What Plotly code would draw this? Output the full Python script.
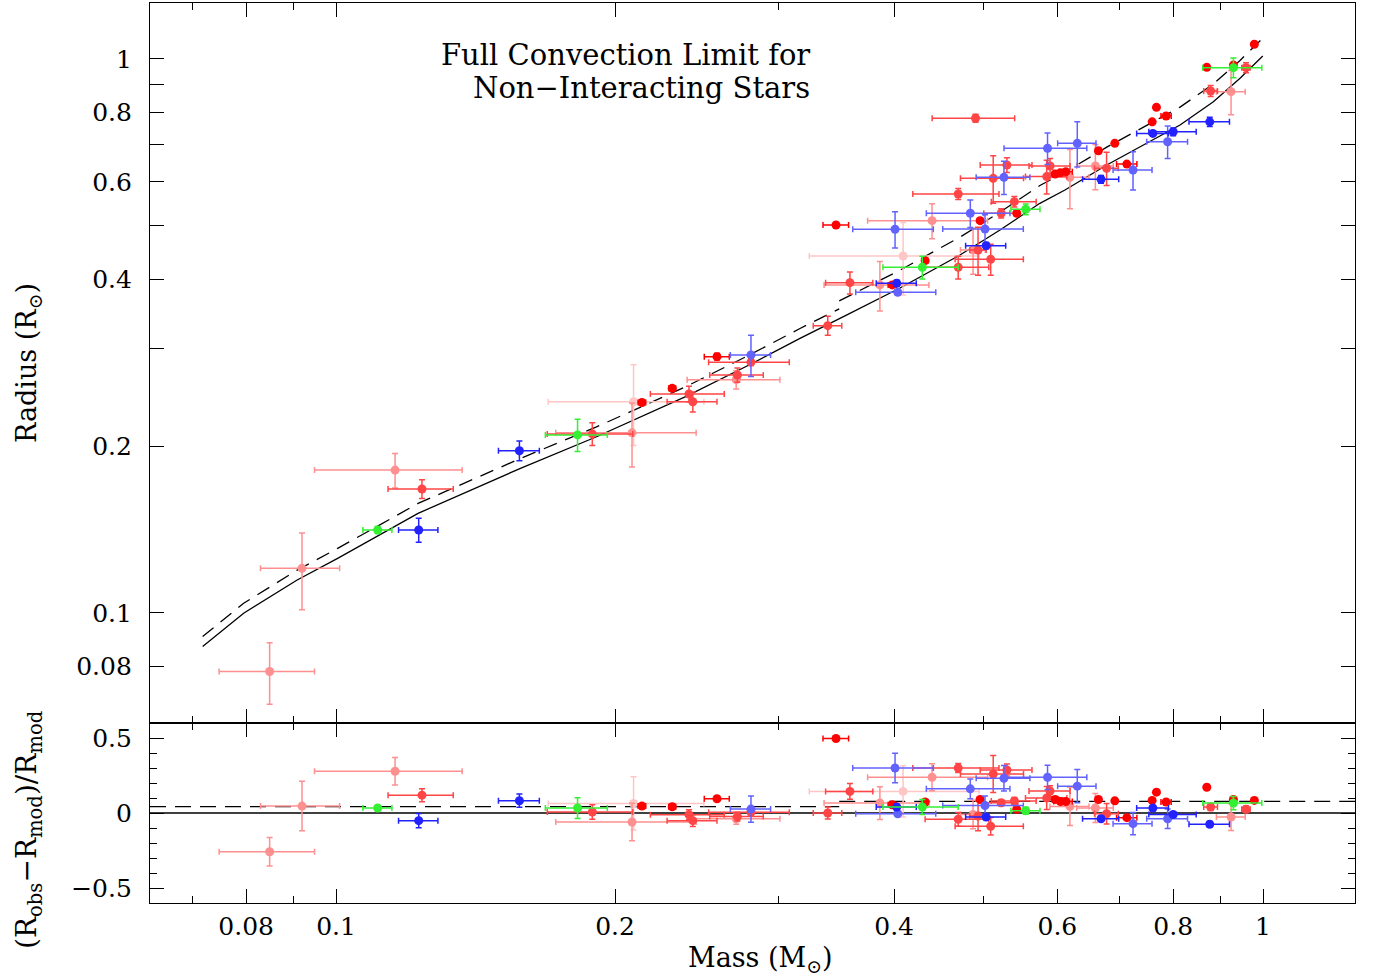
import numpy as np
import plotly.graph_objects as go
from plotly.subplots import make_subplots

# ---------------- model (solid curve) ----------------
model_mass = [0.0718, 0.0795, 0.0908, 0.1004, 0.1226, 0.1581, 0.191, 0.2383, 0.2814,
              0.3166, 0.3553, 0.4059, 0.4711, 0.5203, 0.5745, 0.6114, 0.6783, 0.7366,
              0.8137, 0.8839, 0.9445, 0.9993]
model_radius = [0.0870, 0.0999, 0.1147, 0.1255, 0.1513, 0.1824, 0.208, 0.2457, 0.2823,
                0.3131, 0.3449, 0.3860, 0.4428, 0.4913, 0.5489, 0.5801, 0.6436, 0.6947,
                0.7601, 0.8373, 0.9229, 1.0125]
offset_low = 0.042     # dashed-line offset below the full convection limit
offset_high = 0.077    # dashed-line offset above it
conv_limit = 0.349     # full convection limit (Msun)

# ---------------- observed stars, by colour group ----------------
# red (solid)
red_mass = [0.2138, 0.2305, 0.2576, 0.3462, 0.3981, 0.432, 0.4952, 0.5424, 0.5967, 0.6046,
            0.6127, 0.9786, 0.8696, 0.929, 0.7674, 0.786, 0.7593, 0.6644, 0.692, 0.713]
red_radius = [0.2399, 0.2544, 0.2902, 0.5015, 0.391, 0.4325, 0.5107, 0.5266, 0.620, 0.6234,
              0.626, 1.063, 0.966, 0.975, 0.818, 0.789, 0.770, 0.683, 0.7042, 0.646]
red_mass_err = [0.002, 0.002, 0.008, 0.011, 0.004, 0.003, 0.003, 0.003, 0.004, 0.010,
                0.010, 0.005, 0.003, 0.003, 0.003, 0.010, 0.003, 0.003, 0.003, 0.018]
red_radius_err = [0.002, 0.002, 0.004, 0.003, 0.003, 0.003, 0.003, 0.003, 0.003, 0.004,
                  0.004, 0.006, 0.004, 0.004, 0.006, 0.008, 0.005, 0.004, 0.004, 0.005]
red_resid = [0.046, 0.042, 0.095, 0.497, 0.055, 0.073, 0.090, 0.025, 0.090, 0.077,
             0.077, 0.084, 0.172, 0.090, 0.139, 0.073, 0.084, 0.090, 0.081, -0.031]

# medium red
mred_mass = [0.1238, 0.189, 0.2403, 0.2426, 0.2803, 0.271, 0.3392, 0.3584, 0.469, 0.4927,
             0.5084, 0.5218, 0.5392, 0.4896, 0.469, 0.5293, 0.5116, 0.5892, 0.5843, 0.9585,
             0.878, 0.678]
mred_radius = [0.1674, 0.2105, 0.2485, 0.2406, 0.2836, 0.2689, 0.3301, 0.3947, 0.4207, 0.4519,
               0.4349, 0.5266, 0.5526, 0.7815, 0.5705, 0.6436, 0.609, 0.641, 0.6133, 0.9645,
               0.8754, 0.635]
mred_mass_err = [0.010, 0.020, 0.022, 0.015, 0.028, 0.018, 0.012, 0.021, 0.037, 0.010,
                 0.043, 0.022, 0.030, 0.050, 0.050, 0.034, 0.040, 0.030, 0.030, 0.010,
                 0.015, 0.020]
mred_radius_err = [0.0065, 0.010, 0.008, 0.010, 0.004, 0.008, 0.013, 0.018, 0.020, 0.045,
                   0.028, 0.010, 0.012, 0.013, 0.013, 0.020, 0.060, 0.020, 0.043, 0.020,
                   0.020, 0.044]
mred_resid = [0.119, 0.007, -0.011, -0.051, 0.005, -0.024, 0.0, 0.144, -0.042, -0.02,
              -0.088, 0.068, 0.080, 0.72, 0.30, 0.287, 0.26, 0.146, 0.10, 0.025,
              0.04, -0.005]

# pink
pink_mass = [0.0848, 0.0919, 0.1158, 0.2086, 0.2702, 0.4395, 0.3861, 0.4866, 0.619, 0.9236, 0.6594]
pink_radius = [0.0784, 0.1204, 0.1811, 0.2114, 0.2637, 0.5107, 0.391, 0.4519, 0.6115, 0.873, 0.641]
pink_mass_err = [0.010, 0.009, 0.021, 0.036, 0.031, 0.065, 0.050, 0.015, 0.030, 0.033, 0.030]
pink_radius_err = [0.010, 0.019, 0.013, 0.028, 0.010, 0.037, 0.040, 0.043, 0.075, 0.080, 0.060]
pink_resid = [-0.258, 0.046, 0.278, -0.06, -0.038, 0.238, 0.066, -0.01, 0.044, -0.027, 0.033]

# light pink
lpink_mass = [0.2094, 0.409]
lpink_radius = [0.2406, 0.441]
lpink_mass_err = [0.040, 0.085]
lpink_radius_err = [0.040, 0.066]
lpink_resid = [0.064, 0.144]

# blue
blue_mass = [0.1228, 0.1577, 0.4026, 0.5027, 0.876, 0.7606, 0.8, 0.6687]
blue_radius = [0.1412, 0.1963, 0.3937, 0.4603, 0.770, 0.734, 0.739, 0.6064]
blue_mass_err = [0.006, 0.008, 0.020, 0.025, 0.044, 0.030, 0.047, 0.030]
blue_radius_err = [0.007, 0.008, 0.005, 0.006, 0.015, 0.006, 0.012, 0.010]
blue_resid = [-0.051, 0.082, 0.04, -0.027, -0.075, 0.033, -0.01, -0.038]

# medium blue
mblue_mass = [0.2803, 0.4009, 0.4036, 0.5013, 0.4833, 0.5855, 0.6304, 0.5254, 0.789, 0.724]
mblue_radius = [0.2923, 0.4928, 0.3793, 0.4933, 0.5266, 0.690, 0.7042, 0.6115, 0.709, 0.6304]
mblue_mass_err = [0.014, 0.040, 0.040, 0.050, 0.050, 0.060, 0.030, 0.035, 0.040, 0.035]
mblue_radius_err = [0.025, 0.037, 0.004, 0.030, 0.030, 0.045, 0.066, 0.042, 0.048, 0.050]
mblue_resid = [0.026, 0.30, -0.005, 0.05, 0.161, 0.238, 0.179, 0.232, -0.038, -0.071]

# green
green_mass = [0.1109, 0.1822, 0.429, 0.5546, 0.929]
green_radius = [0.1412, 0.2096, 0.4207, 0.5355, 0.9645]
green_mass_err = [0.004, 0.014, 0.040, 0.020, 0.068]
green_radius_err = [0.002, 0.014, 0.020, 0.012, 0.040]
green_resid = [0.033, 0.033, 0.04, 0.015, 0.066]

# tick labels
x_tick_vals = [0.08, 0.1, 0.2, 0.4, 0.6, 0.8, 1]
x_tick_text = ["0.08", "0.1", "0.2", "0.4", "0.6", "0.8", "1"]
x_minor_vals = [0.07, 0.09, 0.3, 0.5, 0.7, 0.9]
y_tick_vals = [0.08, 0.1, 0.2, 0.4, 0.6, 0.8, 1]
y_tick_text = ["0.08", "0.1", "0.2", "0.4", "0.6", "0.8", "1"]
y_minor_vals = [0.3, 0.5, 0.7, 0.9]      # long unlabelled ticks
y_short_vals = [0.07, 0.09]              # short unlabelled ticks
r_tick_vals = [-0.5, 0, 0.5]
r_tick_text = ["\u22120.5", "0", "0.5"]
r_minor_vals = [-0.4, -0.3, -0.2, -0.1, 0.1, 0.2, 0.3, 0.4]

groups = [
    (lpink_mass, lpink_radius, lpink_mass_err, lpink_radius_err, lpink_resid, "#ffc6c6"),
    (pink_mass, pink_radius, pink_mass_err, pink_radius_err, pink_resid, "#ff9090"),
    (mred_mass, mred_radius, mred_mass_err, mred_radius_err, mred_resid, "#ff4545"),
    (red_mass, red_radius, red_mass_err, red_radius_err, red_resid, "#ff0000"),
    (mblue_mass, mblue_radius, mblue_mass_err, mblue_radius_err, mblue_resid, "#6262ff"),
    (blue_mass, blue_radius, blue_mass_err, blue_radius_err, blue_resid, "#2222ff"),
    (green_mass, green_radius, green_mass_err, green_radius_err, green_resid, "#33f033"),
]

FONT = "DejaVu Serif"
XMIN, XMAX = 0.063, 1.2566
YMIN, YMAX = 0.0633, 1.262
W, H = 1374, 978
ML, MR, MT, MB = 150, 19, 3, 75
PW, PH = W - ML - MR, H - MT - MB


def px_x(px):
    return (px - ML) / PW


def px_y(py):
    return (H - MB - py) / PH


fig = make_subplots(rows=2, cols=1, shared_xaxes=True, vertical_spacing=0,
                    row_heights=[0.8, 0.2])

# model curves (top)
mm = np.array(model_mass)
mr = np.array(model_radius)
r_lim = 10 ** np.interp(np.log10(conv_limit), np.log10(mm), np.log10(mr))
lo = mm < conv_limit
fig.add_trace(go.Scatter(x=mm, y=mr, mode="lines", line=dict(color="black", width=1.3),
                         hoverinfo="skip"), row=1, col=1)
fig.add_trace(go.Scatter(x=list(mm[lo]) + [conv_limit],
                         y=list(mr[lo] * (1 + offset_low)) + [r_lim * (1 + offset_low)],
                         mode="lines", line=dict(color="black", width=1.3, dash="14px,9px"),
                         hoverinfo="skip"), row=1, col=1)
fig.add_trace(go.Scatter(x=[conv_limit] + list(mm[~lo]),
                         y=[r_lim * (1 + offset_high)] + list(mr[~lo] * (1 + offset_high)),
                         mode="lines", line=dict(color="black", width=1.3, dash="14px,9px"),
                         hoverinfo="skip"), row=1, col=1)

# model lines (bottom)
fig.add_trace(go.Scatter(x=[XMIN, XMAX], y=[0, 0], mode="lines",
                         line=dict(color="black", width=1.3), hoverinfo="skip"), row=2, col=1)
fig.add_trace(go.Scatter(x=[XMIN, conv_limit], y=[offset_low, offset_low], mode="lines",
                         line=dict(color="black", width=1.3, dash="16px,9px"),
                         hoverinfo="skip"), row=2, col=1)
fig.add_trace(go.Scatter(x=[conv_limit, XMAX], y=[offset_high, offset_high], mode="lines",
                         line=dict(color="black", width=1.3, dash="16px,9px"),
                         hoverinfo="skip"), row=2, col=1)

for m, r, dm, dr, res, col in groups:
    m = np.array(m); r = np.array(r); dm = np.array(dm); dr = np.array(dr); res = np.array(res)
    fig.add_trace(go.Scatter(
        x=m, y=r, mode="markers", marker=dict(color=col, size=9, line=dict(width=0)),
        error_x=dict(type="data", array=dm, color=col, thickness=1.5, width=3),
        error_y=dict(type="data", array=dr, color=col, thickness=1.5, width=3)),
        row=1, col=1)
    res_err = dr * (1 + res) / r
    fig.add_trace(go.Scatter(
        x=m, y=res, mode="markers", marker=dict(color=col, size=9, line=dict(width=0)),
        error_x=dict(type="data", array=dm, color=col, thickness=1.5, width=3),
        error_y=dict(type="data", array=res_err, color=col, thickness=1.5, width=3)),
        row=2, col=1)

axis_common = dict(showline=True, linecolor="black", linewidth=1.2, mirror="ticks",
                   ticks="inside", ticklen=14, tickwidth=1.2, tickcolor="black",
                   showgrid=False, zeroline=False,
                   tickfont=dict(family=FONT, size=25, color="black"))

fig.update_xaxes(type="log", range=[np.log10(XMIN), np.log10(XMAX)],
                 tickmode="array", tickvals=x_tick_vals, ticktext=x_tick_text,
                 minor=dict(tickvals=x_minor_vals, ticks="inside", ticklen=7,
                            tickwidth=1.2, tickcolor="black", showgrid=False),
                 **axis_common)
fig.update_xaxes(showticklabels=False, row=1, col=1)
fig.update_xaxes(ticklabelstandoff=1, row=2, col=1)

fig.update_yaxes(type="log", range=[np.log10(YMIN), np.log10(YMAX)],
                 tickmode="array", tickvals=y_tick_vals, ticktext=y_tick_text,
                 minor=dict(tickvals=y_minor_vals, ticks="inside", ticklen=14,
                            tickwidth=1.2, tickcolor="black", showgrid=False),
                 ticklabelstandoff=12, **axis_common, row=1, col=1)
fig.update_yaxes(range=[-0.6, 0.6], tickmode="array", tickvals=r_tick_vals,
                 ticktext=r_tick_text,
                 minor=dict(tickvals=r_minor_vals, ticks="inside", ticklen=7,
                            tickwidth=1.2, tickcolor="black", showgrid=False),
                 ticklabelstandoff=12, **axis_common, row=2, col=1)

# short y ticks at 0.07 and 0.09 (both sides of the top panel)
for v in y_short_vals:
    for x0, x1 in [(0, 7 / PW), (1 - 7 / PW, 1)]:
        fig.add_shape(type="line", xref="paper", yref="y",
                      x0=x0, x1=x1, y0=np.log10(v), y1=np.log10(v),
                      line=dict(color="black", width=1.2))

# full convection limit line across both panels
fig.add_shape(type="line", xref="x2", yref="paper",
              x0=np.log10(conv_limit), x1=np.log10(conv_limit), y0=0, y1=1,
              line=dict(color="#c8c8c8", width=6), layer="below")

fig.add_annotation(xref="paper", yref="paper", x=px_x(812), y=px_y(55),
                   xanchor="right", yanchor="middle", showarrow=False,
                   text="Full Convection Limit for",
                   font=dict(family=FONT, size=29, color="black"))
fig.add_annotation(xref="paper", yref="paper", x=px_x(812), y=px_y(88),
                   xanchor="right", yanchor="middle", showarrow=False,
                   text="Non\u2212Interacting Stars",
                   font=dict(family=FONT, size=29, color="black"))
fig.add_annotation(xref="paper", yref="paper", x=px_x(28), y=px_y(363), textangle=-90,
                   xanchor="center", yanchor="middle", showarrow=False,
                   text="Radius (R<sub>\u2299</sub>)",
                   font=dict(family=FONT, size=27, color="black"))
fig.add_annotation(xref="paper", yref="paper", x=px_x(28), y=px_y(830), textangle=-90,
                   xanchor="center", yanchor="middle", showarrow=False,
                   text="(R<sub>obs</sub>\u2212R<sub>mod</sub>)/R<sub>mod</sub>",
                   font=dict(family=FONT, size=28, color="black"))
fig.add_annotation(xref="paper", yref="paper", x=px_x(760), y=px_y(960),
                   xanchor="center", yanchor="middle", showarrow=False,
                   text="Mass (M<sub>\u2299</sub>)",
                   font=dict(family=FONT, size=27, color="black"))

fig.update_layout(width=W, height=H, showlegend=False,
                  margin=dict(l=ML, r=MR, t=MT, b=MB),
                  plot_bgcolor="white", paper_bgcolor="white")

fig.write_html("out.html", config={"displayModeBar": False},
               post_script="document.body.style.margin='0px';"
                           "document.body.style.overflow='hidden';")
